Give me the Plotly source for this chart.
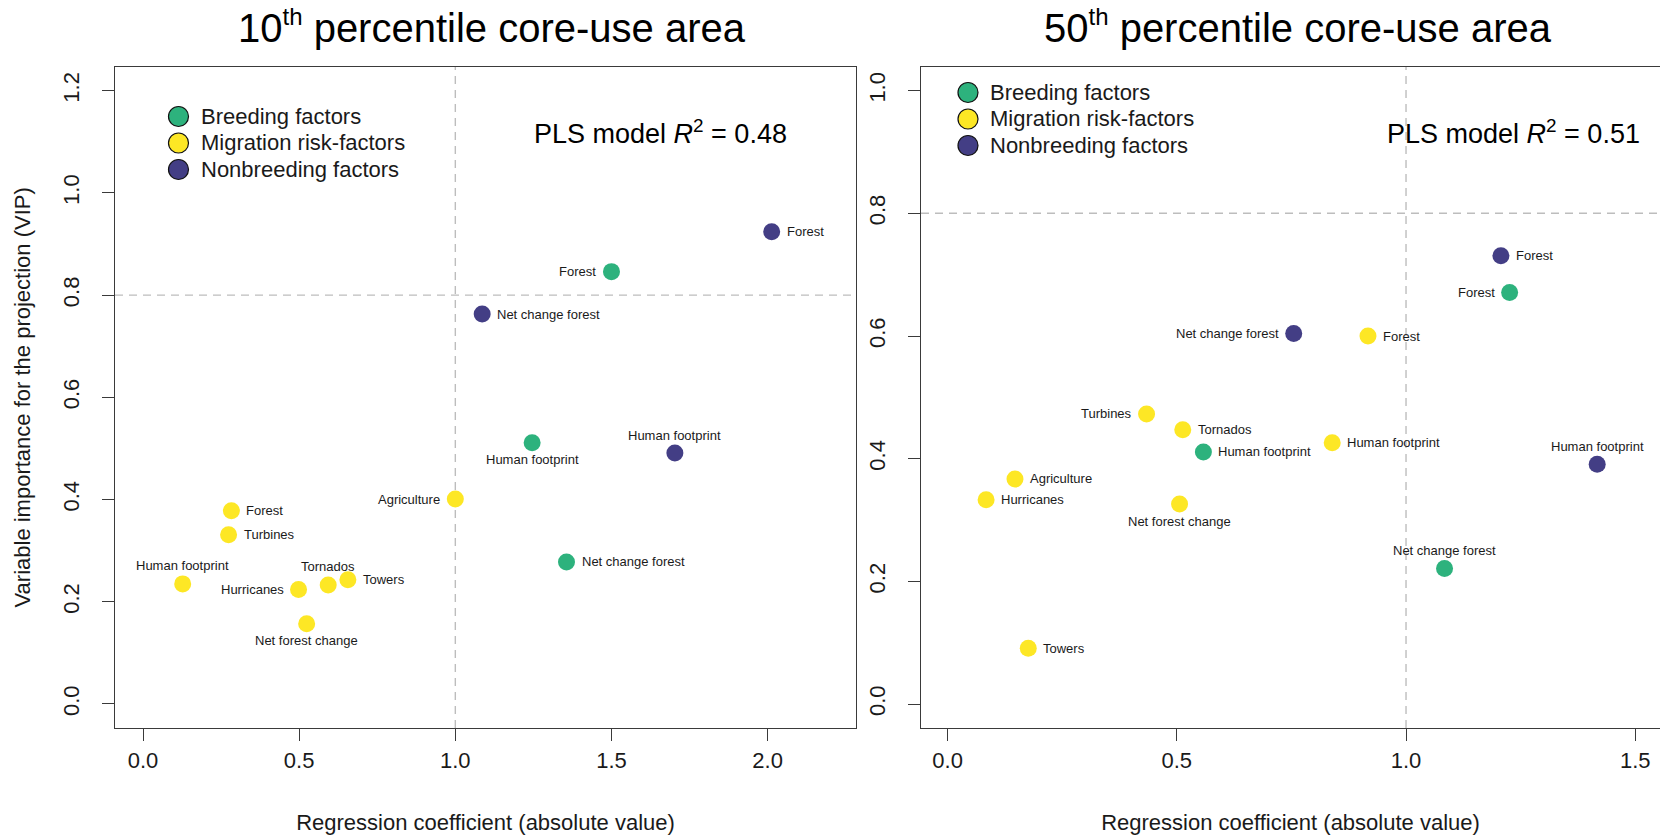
import plotly.graph_objects as go

# ---- data: |regression coefficient| (x) and VIP (y) per predictor ----
GROUPS = ["Breeding factors", "Migration risk-factors", "Nonbreeding factors"]

# 10th percentile core-use area
p10_breeding_names = ["Forest", "Human footprint", "Net change forest"]
p10_breeding_coef = [1.500, 1.246, 1.356]
p10_breeding_vip = [0.846, 0.511, 0.278]

p10_migration_names = ["Agriculture", "Forest", "Turbines", "Human footprint",
                       "Hurricanes", "Tornados", "Towers", "Net forest change"]
p10_migration_coef = [1.000, 0.283, 0.274, 0.127, 0.498, 0.593, 0.656, 0.524]
p10_migration_vip = [0.401, 0.378, 0.331, 0.235, 0.224, 0.233, 0.243, 0.157]

p10_nonbreeding_names = ["Forest", "Net change forest", "Human footprint"]
p10_nonbreeding_coef = [2.013, 1.086, 1.703]
p10_nonbreeding_vip = [0.924, 0.763, 0.491]

# 50th percentile core-use area
p50_breeding_names = ["Forest", "Human footprint", "Net change forest"]
p50_breeding_coef = [1.226, 0.558, 1.084]
p50_breeding_vip = [0.671, 0.411, 0.221]

p50_migration_names = ["Forest", "Turbines", "Tornados", "Human footprint",
                       "Agriculture", "Hurricanes", "Net forest change", "Towers"]
p50_migration_coef = [0.917, 0.434, 0.513, 0.839, 0.147, 0.084, 0.506, 0.176]
p50_migration_vip = [0.600, 0.473, 0.447, 0.426, 0.367, 0.333, 0.326, 0.091]

p50_nonbreeding_names = ["Forest", "Net change forest", "Human footprint"]
p50_nonbreeding_coef = [1.207, 0.755, 1.417]
p50_nonbreeding_vip = [0.731, 0.604, 0.391]

P10_R2 = "0.48"
P50_R2 = "0.51"

# ---- label placement around each point ----
p10_sides = {
    "Breeding factors": ["left", "below", "right"],
    "Migration risk-factors": ["left", "right", "right", "above", "left", "above", "right", "below"],
    "Nonbreeding factors": ["right", "right", "above"],
}
p50_sides = {
    "Breeding factors": ["left", "right", "above"],
    "Migration risk-factors": ["right", "left", "right", "right", "right", "right", "below", "right"],
    "Nonbreeding factors": ["right", "left", "above"],
}

COLORS = {
    "Breeding factors": "#2db27d",
    "Migration risk-factors": "#fde725",
    "Nonbreeding factors": "#433e85",
}

FONT = "Liberation Sans, Arial, Helvetica, sans-serif"
INK = "#1a1a1a"
FRAME = "#3a3a3a"
W, H = 1660, 835

panels = [
    {
        "xa": "x", "ya": "y", "sides": p10_sides,
        "key_x": 178.5, "key_rows": [116.5, 143.0, 169.5],
        "series": {
            "Breeding factors": (p10_breeding_names, p10_breeding_coef, p10_breeding_vip),
            "Migration risk-factors": (p10_migration_names, p10_migration_coef, p10_migration_vip),
            "Nonbreeding factors": (p10_nonbreeding_names, p10_nonbreeding_coef, p10_nonbreeding_vip),
        },
    },
    {
        "xa": "x2", "ya": "y2", "sides": p50_sides,
        "key_x": 968.0, "key_rows": [92.5, 119.0, 145.5],
        "series": {
            "Breeding factors": (p50_breeding_names, p50_breeding_coef, p50_breeding_vip),
            "Migration risk-factors": (p50_migration_names, p50_migration_coef, p50_migration_vip),
            "Nonbreeding factors": (p50_nonbreeding_names, p50_nonbreeding_coef, p50_nonbreeding_vip),
        },
    },
]

fig = go.Figure()
annotations = []
shapes = []

SHIFT = {
    "right": dict(xanchor="left", yanchor="middle", xshift=13, yshift=0),
    "left": dict(xanchor="right", yanchor="middle", xshift=-13, yshift=0),
    "above": dict(xanchor="center", yanchor="middle", xshift=0, yshift=18),
    "below": dict(xanchor="center", yanchor="middle", xshift=0, yshift=-17),
}

for p in panels:
    for g in GROUPS:
        names, xs, ys = p["series"][g]
        fig.add_trace(go.Scatter(
            x=xs, y=ys, mode="markers", xaxis=p["xa"], yaxis=p["ya"], name=g,
            marker=dict(size=17, color=COLORS[g], line=dict(width=0)),
            showlegend=False, hoverinfo="skip",
        ))
        for name, xv, yv, side in zip(names, xs, ys, p["sides"][g]):
            annotations.append(dict(
                x=xv, y=yv, xref=p["xa"], yref=p["ya"], text=name, showarrow=False,
                font=dict(family=FONT, size=13, color=INK), **SHIFT[side],
            ))
    # key: outlined circles with group names
    for g, row in zip(GROUPS, p["key_rows"]):
        shapes.append(dict(
            type="circle", xref="paper", yref="paper",
            xsizemode="pixel", ysizemode="pixel",
            xanchor=p["key_x"] / W, yanchor=1 - row / H,
            x0=-10, x1=10, y0=-10, y1=10,
            fillcolor=COLORS[g], line=dict(color="#111", width=1.2), layer="above",
        ))
        annotations.append(dict(
            x=(p["key_x"] + 20) / W, y=1 - row / H, xref="paper", yref="paper",
            text=g, showarrow=False, xanchor="left", yanchor="middle",
            font=dict(family=FONT, size=22, color=INK),
        ))

# panel titles
for cx, label in ((492, "10"), (1298, "50")):
    annotations.append(dict(x=cx / W, y=1 - 26 / H, xref="paper", yref="paper",
                            text=label + "<sup><span style='font-size:24px'>th</span></sup>"
                                 " percentile core-use area",
                            showarrow=False, xanchor="center", yanchor="middle",
                            font=dict(family=FONT, size=40, color="#000")))
# model fit text
for cx, r2 in ((660, P10_R2), (1513, P50_R2)):
    annotations.append(dict(x=cx / W, y=1 - 132 / H, xref="paper", yref="paper",
                            text="PLS model <i>R</i><sup>2</sup> = " + r2, showarrow=False,
                            xanchor="center", yanchor="middle",
                            font=dict(family=FONT, size=27, color="#000")))

# reference lines at |coef| = 1 and VIP = 0.8
for xa, ya in (("x", "y"), ("x2", "y2")):
    shapes.append(dict(type="line", xref=xa, yref=ya + " domain", x0=1, x1=1, y0=0, y1=1,
                       line=dict(color="#bdbdbd", width=1.4, dash="8px,6px"), layer="below"))
    shapes.append(dict(type="line", xref=xa + " domain", yref=ya, x0=0, x1=1, y0=0.8, y1=0.8,
                       line=dict(color="#bdbdbd", width=1.4, dash="8px,6px"), layer="below"))

ydom = [1 - 728 / H, 1 - 66.7 / H]
axis_common = dict(
    showgrid=False, zeroline=False, showline=True, linecolor=FRAME, linewidth=1.4,
    ticks="outside", ticklen=12, tickwidth=1.3, tickcolor=FRAME,
    tickfont=dict(family=FONT, size=22, color=INK), tickformat=".1f",
)
xtitle = dict(text="Regression coefficient (absolute value)",
              font=dict(family=FONT, size=22, color=INK), standoff=44)

fig.update_layout(
    width=W, height=H, margin=dict(l=0, r=0, t=0, b=0),
    paper_bgcolor="white", plot_bgcolor="white", showlegend=False,
    font=dict(family=FONT, color=INK),
    xaxis=dict(domain=[115 / W, 856 / W], range=[-0.0897, 2.283], mirror=True,
               tickvals=[0, 0.5, 1.0, 1.5, 2.0], anchor="y", title=xtitle,
               ticklabelstandoff=0, **axis_common),
    yaxis=dict(domain=ydom, range=[-0.047, 1.247], mirror=True,
               tickvals=[0, 0.2, 0.4, 0.6, 0.8, 1.0, 1.2], tickangle=-90, anchor="x",
               title=dict(text="Variable importance for the projection (VIP)",
                          font=dict(family=FONT, size=22, color=INK), standoff=22),
               ticklabelstandoff=14, **axis_common),
    xaxis2=dict(domain=[921 / W, 1.0], range=[-0.058, 1.554], mirror=True,
                tickvals=[0, 0.5, 1.0, 1.5], anchor="y2", title=xtitle,
                ticklabelstandoff=0, **axis_common),
    yaxis2=dict(domain=ydom, range=[-0.039, 1.039], mirror=False,
                tickvals=[0, 0.2, 0.4, 0.6, 0.8, 1.0], tickangle=-90, anchor="x2",
                ticklabelstandoff=14, **axis_common),
    annotations=annotations,
    shapes=shapes,
)

fig.write_html("out.html")
